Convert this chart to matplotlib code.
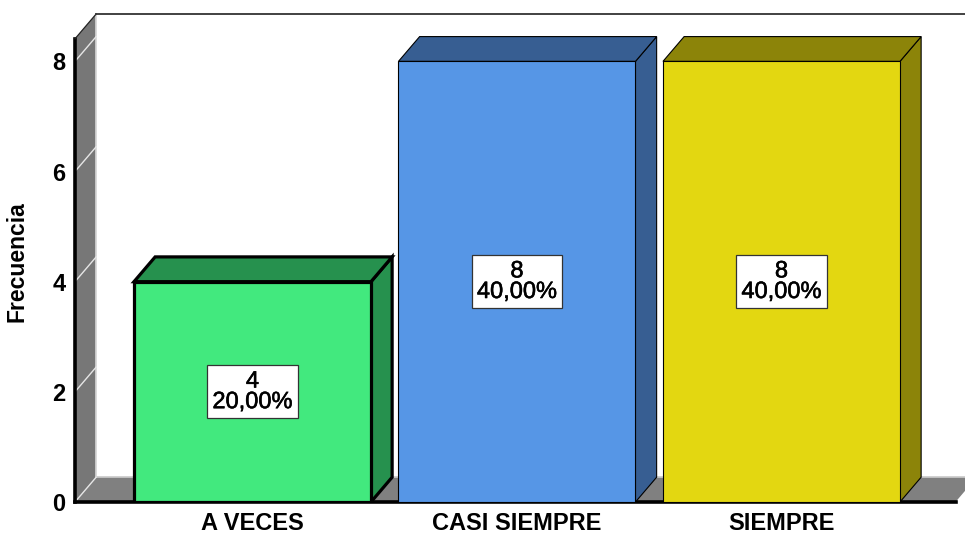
import matplotlib
matplotlib.use("Agg")
import matplotlib.pyplot as plt
import matplotlib.patheffects as pe
from matplotlib.patches import Polygon

# ------------------- DATA -------------------
categories = ["A VECES", "CASI SIEMPRE", "SIEMPRE"]
counts = [4, 8, 8]
percents = [20.0, 40.0, 40.0]
y_ticks = [0, 2, 4, 6, 8]

# ------------------- STYLE -------------------
front_colors = ["#42E97E", "#5696E6", "#E3D711"]
shade_colors = ["#26914E", "#375E92", "#8C8409"]
edge_widths = [2.3, 0.8, 0.8]

BAR_W = 0.896      # bar width in category units
DX = 0.08          # depth offset (x, category units)
DY = 0.45          # depth offset (y, value units)
X0 = -0.671        # front of the left wall
X1 = 2.658         # right end of the floor (front)
WALL_TOP = 8.41
X_RIGHT = X0 + 890 / 264.5

plt.rcParams["font.family"] = ["Liberation Sans", "DejaVu Sans"]
medium = [pe.withStroke(linewidth=0.4, foreground="black")]

fig = plt.figure(figsize=(9.65, 5.38), dpi=100)
ax = fig.add_axes([75 / 965, 36 / 538, 890 / 965, 488 / 538])
ax.set_xlim(X0, X_RIGHT)
ax.set_ylim(0, WALL_TOP + DY)
for s in ax.spines.values():
  s.set_visible(False)

# walls / floor
wall = Polygon([(X0, 0), (X0 + DX, DY), (X0 + DX, WALL_TOP + DY), (X0, WALL_TOP)],
               closed=True, fc="#777777", ec="none", clip_on=False, zorder=1)
floor = Polygon([(X0, 0), (X1, 0), (X1 + DX, DY), (X0 + DX, DY)],
                closed=True, fc="#808080", ec="none", clip_on=False, zorder=1)
ax.add_patch(wall)
ax.add_patch(floor)
ax.plot([X0 + DX, X0 + DX], [DY, WALL_TOP + DY], color="#d8d8d8", lw=1.2, zorder=2, clip_on=False)
ax.plot([X0 + DX, X1 + DX], [DY, DY], color="#c8c8c8", lw=1.2, zorder=2, clip_on=False)
for t in y_ticks:
  ax.plot([X0, X0 + DX], [t, t + DY], color="#e6e6e6", lw=1.0, zorder=2, clip_on=False)
ax.plot([X0, X0], [0, WALL_TOP], color="black", lw=2.6, zorder=3, clip_on=False)
ax.plot([X0, X1], [0, 0], color="black", lw=2.6, zorder=3, clip_on=False)
ax.plot([X0, X0 + DX], [WALL_TOP, WALL_TOP + DY], color="#222222", lw=0.9, zorder=3, clip_on=False)
ax.plot([X0 + DX, X_RIGHT], [WALL_TOP + DY] * 2, color="#333333", lw=1.3, zorder=3, clip_on=False)

# bars
for i, v in enumerate(counts):
  l = i - BAR_W / 2
  r = i + BAR_W / 2
  lw = edge_widths[i]
  side = Polygon([(r, 0), (r + DX, DY), (r + DX, v + DY), (r, v)], closed=True,
                 fc=shade_colors[i], ec="black", lw=lw, joinstyle="miter", zorder=4)
  top = Polygon([(l, v), (r, v), (r + DX, v + DY), (l + DX, v + DY)], closed=True,
                fc=shade_colors[i], ec="black", lw=lw, joinstyle="miter", zorder=4)
  front = Polygon([(l, 0), (r, 0), (r, v), (l, v)], closed=True,
                  fc=front_colors[i], ec="black", lw=lw, joinstyle="miter", zorder=5)
  ax.add_patch(side)
  ax.add_patch(top)
  ax.add_patch(front)

  label = f"{counts[i]}\n{percents[i]:.2f}%".replace(".", ",")
  t = ax.text(i, v / 2, label, ha="center", va="center", fontsize=17,
              linespacing=0.92, zorder=6,
              bbox=dict(boxstyle="square,pad=0.22", fc="white", ec="#333333", lw=0.9))
  t.set_path_effects(medium)

# axes text
ax.set_yticks(y_ticks)
ax.set_yticklabels([str(t) for t in y_ticks], fontsize=17, fontweight="bold")
ax.tick_params(axis="y", length=0, pad=7)
ax.set_xticks(range(len(categories)))
ax.set_xticklabels(categories, fontsize=17, fontweight="bold")
ax.tick_params(axis="x", length=0, pad=7)

fig.text(17 / 965, 1 - 262 / 538, "Frecuencia", rotation=90, ha="center", va="center",
         fontsize=16.5, fontweight="bold")

fig.savefig("out.png", dpi=100)
